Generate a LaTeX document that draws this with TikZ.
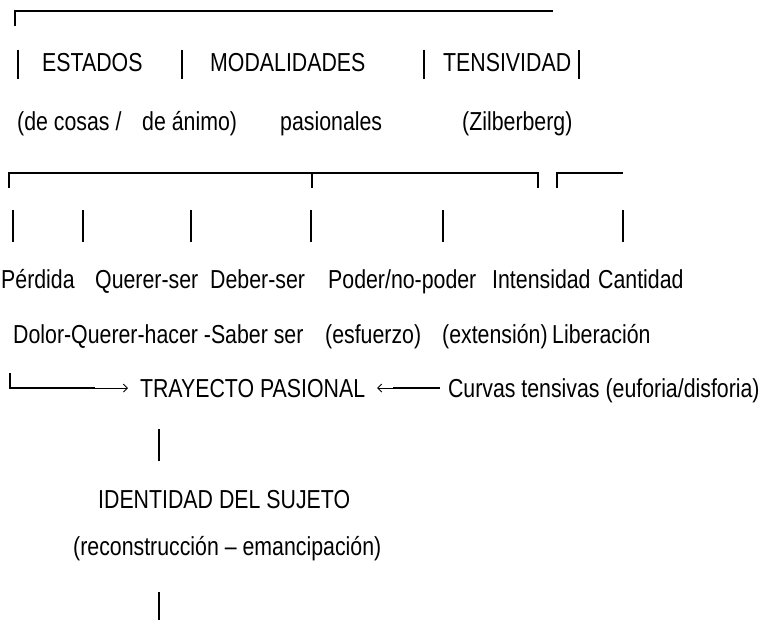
\documentclass[tikz,border=0pt]{standalone}
\usepackage{fontspec}
\usetikzlibrary{arrows.meta}
\newfontfamily\narrowfont[FakeStretch=0.82]{Liberation Sans}
\tikzset{
  txt/.style={anchor=base west, inner sep=0pt, font=\narrowfont\fontsize{26}{30}\selectfont},
  rule/.style={line width=1.6pt},
  thinarrow/.style={line width=0.9pt, -{Straight Barb[length=4pt,width=8pt]}},
}
\begin{document}
\begin{tikzpicture}[x=1pt,y=-1pt]
\useasboundingbox (0,0) rectangle (760,620);
% top bracket
\coordinate (t0) at (15,26);
\coordinate (t1) at (553,11);
\draw[rule] (t0) |- (t1);
% row 2
\foreach \x [count=\i] in {18,182,424,579} {
  \coordinate (ba\i) at (\x,50); \coordinate (bb\i) at (\x,79);
  \draw[rule] (ba\i) -- (bb\i);
}
\node[txt] (estados) at (42,72) {ESTADOS};
\node[txt] (modal) at (210,72) {MODALIDADES};
\node[txt] (tens) at (443,72) {TENSIVIDAD};
% row 3
\node[txt] (cosas) at (17,131) {(de cosas /};
\node[txt] (animo) at (142,131) {de ánimo)};
\node[txt] (pasion) at (280,131) {pasionales};
\node[txt] (zilb) at (462,131) {(Zilberberg)};
% second bracket row
\coordinate (k0) at (9,188);
\coordinate (k1) at (538,173);
\coordinate (k2) at (538,188);
\coordinate (km) at (312,173);
\coordinate (kmb) at (312,188);
\draw[rule] (k0) |- (k1) -- (k2);
\draw[rule] (km) -- (kmb);
\coordinate (r0) at (557,188);
\coordinate (r1) at (623,173);
\draw[rule] (r0) |- (r1);
% row 5 bars
\foreach \x [count=\i] in {13,83,191,311,443,623} {
  \coordinate (ca\i) at (\x,210); \coordinate (cb\i) at (\x,242);
  \draw[rule] (ca\i) -- (cb\i);
}
% row 6
\node[txt] (perd) at (1,288) {Pérdida};
\node[txt] (qser) at (95,288) {Querer-ser};
\node[txt] (dser) at (210,288) {Deber-ser};
\node[txt] (poder) at (328,288) {Poder/no-poder};
\node[txt] (inten) at (492,288) {Intensidad};
\node[txt] (cant) at (598,288) {Cantidad};
% row 7
\node[txt] (dolor) at (13,343) {Dolor-Querer-hacer -Saber ser};
\node[txt] (esf) at (325,343) {(esfuerzo)};
\node[txt] (ext) at (442,343) {(extensión)};
\node[txt] (lib) at (552,343) {Liberación};
% row 8
\node[txt, outer xsep=12pt] (tray) at (128,397) {TRAYECTO PASIONAL};
\node[txt, outer xsep=8pt] (curv) at (440,397) {Curvas tensivas (euforia/disforia)};
\coordinate (c1) at (10,373);
\coordinate (c2) at (95,0);
\coordinate (m1) at (393,0);
\draw[rule] (c1) |- (c2 |- tray.west);
\draw[thinarrow] (c2 |- tray.west) -- (tray.west);
\draw[rule] (curv.west |- tray.east) -- (m1 |- tray.east);
\draw[thinarrow] (m1 |- tray.east) -- (tray.east);
% lower
\coordinate (v1) at (159,429);
\coordinate (v2) at (159,461);
\draw[rule] (v1) -- (v2);
\node[txt] (ident) at (98,508) {IDENTIDAD DEL SUJETO};
\node[txt] (recon) at (73,555) {(reconstrucción – emancipación)};
\coordinate (v3) at (159,592);
\coordinate (v4) at (159,620);
\draw[rule] (v3) -- (v4);
\end{tikzpicture}
\end{document}
